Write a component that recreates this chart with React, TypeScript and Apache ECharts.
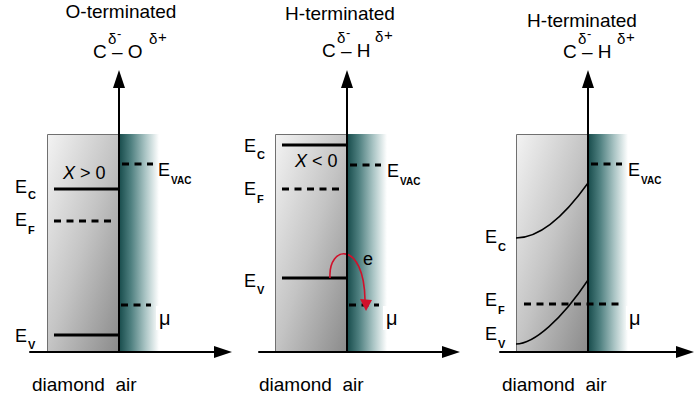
import React, { useEffect, useRef } from 'react';
import * as echarts from 'echarts';

const FONT = '"Liberation Sans", Arial, sans-serif';

// ---- layout of the three panels (axis origins, in page pixels) ----
const panelOriginX = [119, 347, 588];
const originY = 352;
const axisLeftX = [30, 259, 500];
const axisRightX = [223, 451, 685];
const axisTopY = 79;

// ---- data (energy: height above the baseline; position: distance from surface) ----
const panelTitles = ['O-terminated', 'H-terminated', 'H-terminated'];
const diamondLeft = -72;
const airRight = 40;
const boxTop = 218;
const condBand = [163, 207];         // flat Ec (panels 1, 2)
const fermiLevel = [131, 163, 48];   // EF
const valenceBand = [17, 74];        // flat Ev (panels 1, 2)
const vacuumLevel = [188, 187, 188]; // EVAC
const chemPotential = [47, 47, 48];  // mu
// bent bands of panel 3: start, control 1, control 2, end (cubic Bezier)
const bentCondBand = [[-72, 114], [-50, 114], [-25, 134], [0, 169]];
const bentValBand = [[-72, 8], [-54, 8], [-26, 33], [0, 72]];
const electronPath = [[-17, 74], [-19, 107], [17, 112], [18, 52]];
const electronHead = [[19, 41], [13, 53], [25, 52]];

const levelSeries = (i: number, x0: number, x1: number, y: number, dashed: boolean, w = 3) => ({
  type: 'line',
  xAxisIndex: i,
  yAxisIndex: i,
  data: [[x0, y], [x1, y]],
  symbol: 'none',
  silent: true,
  z: 5,
  lineStyle: { color: '#000', width: w, type: dashed ? [7, 5.5] : 'solid', cap: 'butt' },
});

const boxSeries = (i: number) => ({
  type: 'custom',
  xAxisIndex: i,
  yAxisIndex: i,
  silent: true,
  z: 2,
  encode: { x: [0, 1], y: [2, 3] },
  data: [
    [diamondLeft, 0, 0, boxTop, 0],
    [0, airRight, 0, boxTop, 1],
  ],
  renderItem: (params: any, api: any) => {
    const x0 = api.value(0), x1 = api.value(1), y0 = api.value(2), y1 = api.value(3), kind = api.value(4);
    const p0 = api.coord([x0, y1]);
    const p1 = api.coord([x1, y0]);
    const shape = { x: p0[0], y: p0[1], width: p1[0] - p0[0], height: p1[1] - p0[1] };
    if (kind === 0) {
      return {
        type: 'rect',
        shape: { x: shape.x + 0.5, y: shape.y + 0.5, width: shape.width, height: shape.height },
        style: {
          fill: {
            type: 'linear', x: 0, y: 0, x2: 1, y2: 1,
            colorStops: [
              { offset: 0, color: '#f3f3f3' },
              { offset: 0.5, color: '#c4c4c4' },
              { offset: 1, color: '#8a8a8a' },
            ],
          },
          stroke: '#707070',
          lineWidth: 1,
        },
      };
    }
    return {
      type: 'rect',
      shape,
      style: {
        fill: {
          type: 'linear', x: 0, y: 0, x2: 1, y2: 0,
          colorStops: [
            { offset: 0, color: '#174b4b' },
            { offset: 0.3, color: '#4f8080' },
            { offset: 0.65, color: '#a8c3c3' },
            { offset: 1, color: '#ffffff' },
          ],
        },
      },
    };
  },
});

const bezierShape = (api: any, pts: number[][]) => {
  const p = pts.map((q) => api.coord(q));
  return {
    x1: p[0][0], y1: p[0][1],
    cpx1: p[1][0], cpy1: p[1][1],
    cpx2: p[2][0], cpy2: p[2][1],
    x2: p[3][0], y2: p[3][1],
  };
};

const bentSeries = {
  type: 'custom',
  xAxisIndex: 2,
  yAxisIndex: 2,
  silent: true,
  z: 6,
  data: [[0, 0]],
  renderItem: (params: any, api: any) => ({
    type: 'group',
    children: [bentCondBand, bentValBand].map((b) => ({
      type: 'bezierCurve',
      shape: bezierShape(api, b),
      style: { stroke: '#000', lineWidth: 1.5, fill: 'none' },
    })),
  }),
};

const electronSeries = {
  type: 'custom',
  xAxisIndex: 1,
  yAxisIndex: 1,
  silent: true,
  z: 8,
  data: [[0, 0]],
  renderItem: (params: any, api: any) => {
    const h = electronHead.map((q) => api.coord(q));
    return {
      type: 'group',
      children: [
        {
          type: 'bezierCurve',
          shape: bezierShape(api, electronPath),
          style: { stroke: '#d0112b', lineWidth: 1.6, fill: 'none' },
        },
        { type: 'polygon', shape: { points: h }, style: { fill: '#d0112b' } },
      ],
    };
  },
};

const txt = (text: string, x: number, y: number, size: number, extra: any = {}) => ({
  type: 'text',
  x,
  y,
  z: 100,
  silent: true,
  style: {
    text,
    fontSize: size,
    fontFamily: FONT,
    fill: '#000',
    align: 'left',
    verticalAlign: 'middle',
    ...extra,
  },
});

const eLabel = (x: number, y: number, sub: string, dy: number) => [
  txt('E', x, y, 18),
  txt(sub, x + 13, y + dy, sub.length > 1 ? 10 : 11, { fontWeight: 'bold' }),
];

const muLabel = (x: number, y: number) =>
  txt('μ', x, y, 20, { backgroundColor: '#fff', padding: [2, 3, 2, 3] });

const formula = (cx: number, y: number, right: string, dpx: number, dpy: number) => [
  txt('C – ' + right, cx, y, 19),
  txt('δ', cx + 15, y - 13, 15),
  txt('-', cx + 24, y - 18, 13),
  txt('δ', cx + dpx, y - 13 + dpy, 15),
  txt('+', cx + dpx + 9, y - 15 + dpy, 15),
];

export default function App() {
  const ref = useRef<HTMLDivElement>(null);
  useEffect(() => {
    if (!ref.current) return;
    const chart = echarts.init(ref.current, undefined, { renderer: 'svg' });

    const grids = [0, 1, 2].map((i) => ({
      left: axisLeftX[i],
      top: axisTopY,
      width: axisRightX[i] - axisLeftX[i],
      height: originY - axisTopY,
      containLabel: false,
    }));
    const axisLine = (onZero: boolean) => ({
      show: true,
      onZero,
      symbol: ['none', 'triangle'],
      symbolSize: [12, 18],
      lineStyle: { color: '#000', width: 2 },
    });
    const xAxes = [0, 1, 2].map((i) => ({
      gridIndex: i,
      type: 'value',
      min: axisLeftX[i] - panelOriginX[i],
      max: axisRightX[i] - panelOriginX[i],
      axisLine: axisLine(false),
      axisTick: { show: false },
      axisLabel: { show: false },
      splitLine: { show: false },
      z: 10,
    }));
    const yAxes = [0, 1, 2].map((i) => ({
      gridIndex: i,
      type: 'value',
      min: 0,
      max: originY - axisTopY,
      axisLine: axisLine(true),
      axisTick: { show: false },
      axisLabel: { show: false },
      splitLine: { show: false },
      z: 10,
    }));

    const series: any[] = [];
    [0, 1, 2].forEach((i) => series.push(boxSeries(i)));
    [0, 1].forEach((i) => {
      series.push(levelSeries(i, -65, 0, condBand[i], false));
      series.push(levelSeries(i, -65, -4, fermiLevel[i], true));
      series.push(levelSeries(i, -65, 0, valenceBand[i], false));
    });
    [0, 1, 2].forEach((i) => {
      series.push(levelSeries(i, 3, 34, vacuumLevel[i], true));
    });
    series.push(levelSeries(0, 2, 32, chemPotential[0], true));
    series.push(levelSeries(1, 2, 32, chemPotential[1], true));
    series.push(levelSeries(2, -64, 34, fermiLevel[2], true));
    series.push(bentSeries);
    series.push(electronSeries);

    const italic = { i: { fontStyle: 'italic', fontSize: 18, fontFamily: FONT } };
    const graphics: any[] = [
      txt(panelTitles[0], 121, 11, 19, { align: 'center' }),
      txt(panelTitles[1], 340, 13, 19, { align: 'center' }),
      txt(panelTitles[2], 582, 20, 19, { align: 'center' }),
      ...formula(93, 51, 'O', 56, 0),
      ...formula(322, 50, 'H', 53, -1),
      ...formula(563, 51, 'H', 54, 0),
      // panel 1
      ...eLabel(15, 187, 'C', 8),
      ...eLabel(15, 220, 'F', 10),
      ...eLabel(15, 336, 'V', 9),
      ...eLabel(158, 170, 'VAC', 10),
      muLabel(156, 318),
      txt('{i|X} > 0', 63, 173, 18, { rich: italic }),
      // panel 2
      ...eLabel(244, 146, 'C', 9),
      ...eLabel(244, 189, 'F', 10),
      ...eLabel(244, 281, 'V', 9),
      ...eLabel(387, 171, 'VAC', 10),
      muLabel(383, 318),
      txt('{i|X} < 0', 295, 161, 18, { rich: italic }),
      txt('e', 363, 259, 18),
      // panel 3
      ...eLabel(485, 237, 'C', 10),
      ...eLabel(485, 300, 'F', 10),
      ...eLabel(485, 334, 'V', 10),
      ...eLabel(628, 170, 'VAC', 10),
      muLabel(626, 318),
      // bottom labels
      txt('diamond  air', 32, 384, 19),
      txt('diamond  air', 259, 384, 19),
      txt('diamond  air', 502, 384, 19),
    ];

    chart.setOption({
      animation: false,
      backgroundColor: '#fff',
      grid: grids,
      xAxis: xAxes,
      yAxis: yAxes,
      series,
      graphic: graphics,
    });
    return () => chart.dispose();
  }, []);

  return (
    <div
      ref={ref}
      style={{ position: 'fixed', left: 0, top: 0, width: 694, height: 401, background: '#fff' }}
    />
  );
}
